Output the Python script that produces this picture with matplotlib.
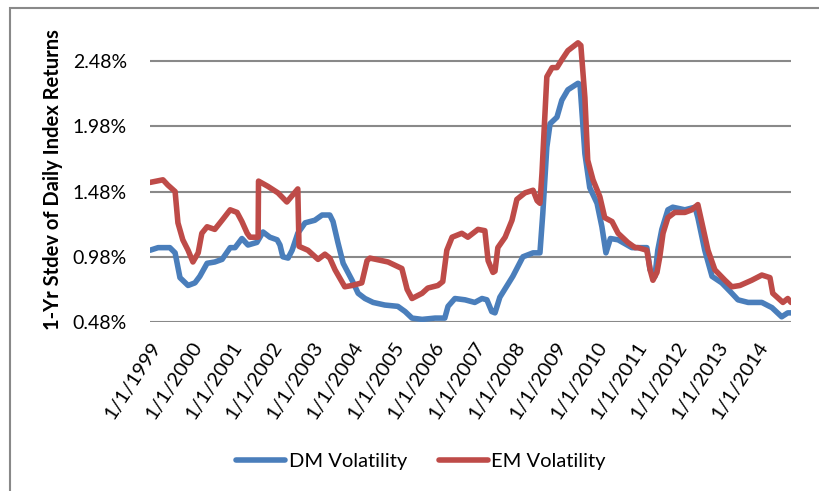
import matplotlib
matplotlib.use("Agg")
import matplotlib.pyplot as plt
from matplotlib.patches import Rectangle
from matplotlib.ticker import FuncFormatter

# decimal years
dm_years = [1999.00, 1999.20, 1999.49, 1999.62, 1999.74, 1999.94, 2000.11, 2000.23, 2000.41, 2000.60,
            2000.78, 2000.98, 2001.10, 2001.27, 2001.42, 2001.64, 2001.79, 2001.96, 2002.14, 2002.21,
            2002.28, 2002.41, 2002.51, 2002.65, 2002.83, 2003.07, 2003.25, 2003.44, 2003.52, 2003.64,
            2003.77, 2003.99, 2004.14, 2004.31, 2004.51, 2004.80, 2005.12, 2005.30, 2005.47, 2005.72,
            2006.04, 2006.28, 2006.36, 2006.53, 2006.78, 2007.02, 2007.20, 2007.32, 2007.44, 2007.52,
            2007.64, 2007.96, 2008.21, 2008.46, 2008.63, 2008.70, 2008.80, 2008.88, 2009.05, 2009.17,
            2009.32, 2009.57, 2009.62, 2009.67, 2009.74, 2009.86, 2010.04, 2010.16, 2010.26, 2010.37,
            2010.56, 2010.90, 2011.15, 2011.27, 2011.35, 2011.47, 2011.54, 2011.64, 2011.79, 2011.91,
            2012.21, 2012.46, 2012.53, 2012.70, 2012.88, 2013.12, 2013.37, 2013.52, 2013.77, 2014.11,
            2014.36, 2014.60, 2014.75, 2014.83]
dm_vol = [1.03, 1.05, 1.05, 1.01, 0.82, 0.76, 0.78, 0.83, 0.93, 0.94,
          0.96, 1.05, 1.05, 1.12, 1.07, 1.09, 1.17, 1.13, 1.11, 1.07,
          0.98, 0.97, 1.03, 1.16, 1.24, 1.26, 1.30, 1.30, 1.25, 1.09,
          0.93, 0.80, 0.70, 0.66, 0.63, 0.61, 0.60, 0.56, 0.51, 0.50,
          0.51, 0.51, 0.60, 0.66, 0.65, 0.63, 0.66, 0.65, 0.56, 0.55,
          0.67, 0.83, 0.98, 1.01, 1.01, 1.31, 1.82, 2.00, 2.05, 2.18,
          2.26, 2.31, 2.30, 2.08, 1.77, 1.51, 1.39, 1.21, 1.01, 1.12,
          1.11, 1.05, 1.05, 1.05, 0.88, 0.83, 1.03, 1.19, 1.34, 1.36,
          1.34, 1.36, 1.28, 1.03, 0.83, 0.78, 0.70, 0.65, 0.63, 0.63,
          0.59, 0.52, 0.55, 0.55]

em_years = [1999.00, 1999.32, 1999.44, 1999.62, 1999.69, 1999.81, 1999.94, 2000.06, 2000.19, 2000.28,
            2000.41, 2000.60, 2000.78, 2000.98, 2001.15, 2001.27, 2001.40, 2001.47, 2001.67, 2001.68,
            2001.91, 2002.16, 2002.38, 2002.65, 2002.68, 2002.90, 2003.15, 2003.32, 2003.44, 2003.57,
            2003.81, 2003.99, 2004.23, 2004.36, 2004.43, 2004.88, 2005.22, 2005.35, 2005.47, 2005.72,
            2005.86, 2006.11, 2006.23, 2006.33, 2006.46, 2006.70, 2006.85, 2007.10, 2007.27, 2007.35,
            2007.47, 2007.52, 2007.59, 2007.77, 2007.94, 2008.06, 2008.26, 2008.46, 2008.56, 2008.63,
            2008.68, 2008.73, 2008.80, 2008.93, 2009.05, 2009.17, 2009.32, 2009.57, 2009.64, 2009.74,
            2009.81, 2009.94, 2010.11, 2010.23, 2010.41, 2010.56, 2010.80, 2010.98, 2011.05, 2011.27,
            2011.35, 2011.42, 2011.52, 2011.59, 2011.67, 2011.79, 2011.96, 2012.21, 2012.38, 2012.53,
            2012.63, 2012.78, 2012.95, 2013.20, 2013.37, 2013.57, 2013.86, 2014.11, 2014.31, 2014.38,
            2014.63, 2014.75, 2014.83]
em_vol = [1.55, 1.57, 1.53, 1.48, 1.24, 1.11, 1.03, 0.94, 1.01, 1.16,
          1.21, 1.19, 1.26, 1.34, 1.32, 1.25, 1.16, 1.13, 1.13, 1.56,
          1.52, 1.47, 1.40, 1.50, 1.06, 1.03, 0.96, 1.00, 0.97, 0.88,
          0.75, 0.76, 0.78, 0.95, 0.97, 0.94, 0.89, 0.73, 0.66, 0.70,
          0.74, 0.76, 0.79, 1.03, 1.13, 1.16, 1.13, 1.19, 1.18, 0.95,
          0.86, 0.87, 1.05, 1.13, 1.26, 1.42, 1.47, 1.49, 1.41, 1.39,
          1.62, 1.93, 2.36, 2.43, 2.43, 2.49, 2.56, 2.62, 2.60, 2.20,
          1.72, 1.57, 1.44, 1.28, 1.25, 1.16, 1.09, 1.05, 1.05, 1.03,
          0.88, 0.80, 0.86, 0.98, 1.16, 1.28, 1.32, 1.32, 1.34, 1.38,
          1.24, 1.03, 0.88, 0.80, 0.75, 0.76, 0.80, 0.84, 0.82, 0.70,
          0.63, 0.66, 0.63]

y_ticks = [0.48, 0.98, 1.48, 1.98, 2.48]
x_ticks = list(range(1999, 2015))

plt.rcParams['font.family'] = ['Lato', 'DejaVu Sans']

fig = plt.figure(figsize=(8.2, 4.91), dpi=100)
ax = fig.add_axes([150 / 820, 1 - 322 / 491, 641 / 820, 287 / 491])

ax.plot(dm_years, dm_vol, color='#4A7EBB', lw=4, solid_joinstyle='round', solid_capstyle='round',
        label='DM Volatility', zorder=3)
ax.plot(em_years, em_vol, color='#BE4B48', lw=4, solid_joinstyle='round', solid_capstyle='round',
        label='EM Volatility', zorder=4)

ax.set_xlim(1999, 2014.83)
ax.set_ylim(0.48, 2.68)
ax.set_yticks(y_ticks)
ax.yaxis.set_major_formatter(FuncFormatter(lambda v, p: f"{v:.2f}%"))
ax.set_xticks(x_ticks)
ax.set_xticklabels([f"1/1/{y}" for y in x_ticks], rotation=57, ha='right',
                   rotation_mode='anchor', fontsize=14.5)
ax.tick_params(axis='y', length=0, pad=16.5, labelsize=14)
ax.tick_params(axis='x', length=0, pad=12)
ax.grid(axis='y', color='#898989', lw=1.5)
ax.set_axisbelow(True)
for s in ax.spines.values():
    s.set_visible(False)

fig.text(53 / 820, 1 - 180 / 491, "1-Yr Stdev of Daily Index Returns", rotation=90,
         fontsize=14.5, fontweight='bold', ha='center', va='center')

fig.legend(loc='center', bbox_to_anchor=(421 / 820, 1 - 461 / 491), ncol=2, frameon=False,
           fontsize=14.5, handlelength=2.45, columnspacing=1.6, handletextpad=0.15)

# outer chart frame
fig.patches.append(Rectangle((10 / 820, -0.05), 1.1, 0.05 + 1 - 8 / 491, transform=fig.transFigure,
                             fill=False, edgecolor='#898989', lw=1.5, clip_on=False))

fig.savefig("out.png", dpi=100)
